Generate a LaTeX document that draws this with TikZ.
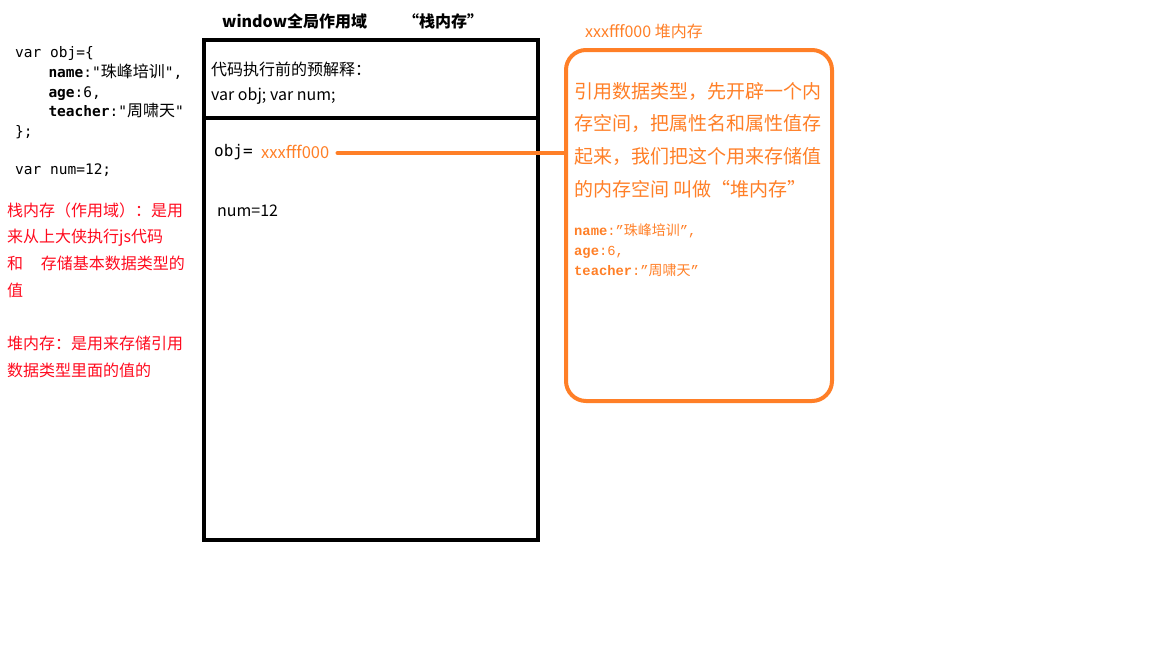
\documentclass[tikz,border=0pt]{standalone}
\usepackage{fontspec}
\setmainfont{Noto Sans CJK SC}
\setmonofont{DejaVu Sans Mono}
\newfontfamily\cjk{Noto Sans CJK SC}
\newfontfamily\hmono{Liberation Mono}
\definecolor{orng}{RGB}{255,127,39}
\definecolor{redtxt}{RGB}{255,10,30}
\begin{document}
\begin{tikzpicture}[x=1pt,y=-1pt,
  txt/.style={anchor=base west,inner sep=0pt},
  code/.style={txt,font=\ttfamily\fontsize{14.5}{14.5}\selectfont},
  red/.style={txt,text=redtxt,font=\fontsize{16}{16}\selectfont},
  big/.style={txt,text=orng,font=\fontsize{19}{19}\selectfont},
  heap/.style={txt,text=orng,font=\hmono\fontsize{13.8}{13.8}\selectfont},
  body/.style={txt,font=\fontsize{16}{16}\selectfont}]
\useasboundingbox (0,0) rectangle (1152,648);
% left code
\node[code] (c1) at (15,57) {var obj=\{};
\node[code] (c2) at (15,77) {\hspace{4.2ex}\textbf{name}:"{\cjk\fontsize{16}{16}\selectfont 珠峰培训}",};
\node[code] (c3) at (15,97) {\hspace{4.2ex}\textbf{age}:6,};
\node[code] (c4) at (15,116) {\hspace{4.2ex}\textbf{teacher}:"{\cjk\fontsize{16}{16}\selectfont 周啸天}"};
\node[code] (c5) at (15,136) {\};};
\node[code] (c6) at (15,174) {var num=12;};
% red notes
\node[red] (r1) at (7,216) {栈内存（作用域）：是用};
\node[red] (r2) at (7,242) {来从上大侠执行js代码};
\node[red] (r3) at (7,269) {和\hspace{1.1em}存储基本数据类型的};
\node[red] (r4) at (7,296) {值};
\node[red] (r5) at (7,349) {堆内存：是用来存储引用};
\node[red] (r6) at (7,376) {数据类型里面的值的};
% title
\node[txt,font=\bfseries\fontsize{16}{16}\selectfont] (t1) at (222,27) {window全局作用域};
\node[txt,font=\bfseries\fontsize{16}{16}\selectfont] (t2) at (403,27) {“栈内存”};
% stack box
\node[draw,line width=4pt,minimum width=334pt,minimum height=500pt,inner sep=0pt] (stack) at (371,290) {};
\coordinate (div) at (0,118);
\draw[line width=4pt] (stack.west |- div) -- (stack.east |- div);
\node[body] (p1) at (211,75) {代码执行前的预解释：};
\node[body] (p2) at (211,100) {var obj; var num;};
\node[txt,font=\ttfamily\fontsize{16}{16}\selectfont] (objeq) at (214,156) {obj=};
\node[txt,text=orng,font=\fontsize{16.5}{16.5}\selectfont] (xaddr) at (261,158) {xxxfff000};
\node[body] (num) at (217,216) {num=12};
% heap
\node[txt,text=orng,font=\fontsize{16}{16}\selectfont] (hlabel) at (585,37) {xxxfff000 堆内存};
\node[draw=orng,line width=4pt,rounded corners=20pt,minimum width=266pt,minimum height=351pt,inner sep=0pt] (heapbox) at (699,225.5) {};
\node[big] (b1) at (574,98) {引用数据类型，先开辟一个内};
\node[big] (b2) at (574,130) {存空间，把属性名和属性值存};
\node[big] (b3) at (574,163) {起来，我们把这个用来存储值};
\node[big] (b4) at (574,196) {的内存空间 叫做“堆内存”};
\node[heap] (h1) at (574,235) {\textbf{name}:”{\cjk\fontsize{14}{14}\selectfont 珠峰培训}”,};
\node[heap] (h2) at (574,255) {\textbf{age}:6,};
\node[heap] (h3) at (574,275) {\textbf{teacher}:”{\cjk\fontsize{14}{14}\selectfont 周啸天}”};
% connector
\coordinate (ls) at ([xshift=8pt,yshift=5pt]xaddr.base east);
\draw[orng,line width=4pt,line cap=round] (ls) -- (ls -| heapbox.west);
\end{tikzpicture}
\end{document}
